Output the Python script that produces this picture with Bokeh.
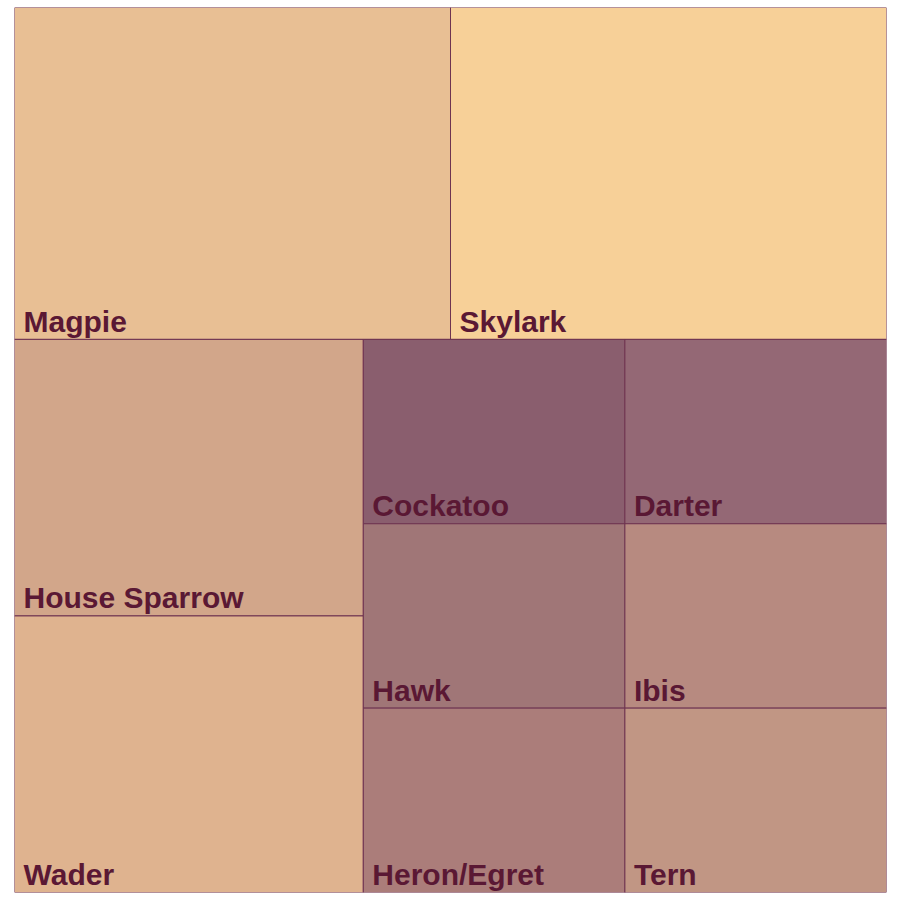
from bokeh.plotting import figure
from bokeh.models import Range1d, ColumnDataSource
from bokeh.core.properties import value
from bokeh.embed import file_html
from bokeh.resources import INLINE

# ---- data ----
birds = ["Magpie", "Skylark", "House Sparrow", "Wader", "Cockatoo",
         "Darter", "Hawk", "Heron/Egret", "Ibis", "Tern"]
counts = [3, 3, 2, 2, 1, 1, 1, 1, 1, 1]

# ---- style ----
fills = ["#E8BF94", "#F7D098", "#D2A68A", "#DFB38F", "#8A5E6E",
         "#946875", "#A07677", "#AB7D7A", "#B78A80", "#C19684"]
ink = "#5A1834"
edge = "#6E3350"

W, H = 872.0, 885.0


def worst(row, side):
    s = sum(row)
    mx, mn = max(row), min(row)
    return max(side * side * mx / (s * s), s * s / (side * side * mn))


def layout_row(row, x, y, w, h):
    """Lay row along the shorter side; y is top in 'down' coords."""
    s = sum(row)
    rects = []
    if w <= h:
        rh = s / w
        cx = x
        for a in row:
            rw = a / rh
            rects.append((cx, y, rw, rh))
            cx += rw
        return rects, (x, y + rh, w, h - rh)
    else:
        rw = s / h
        cy = y
        for a in row:
            rhh = a / rw
            rects.append((x, cy, rw, rhh))
            cy += rhh
        return rects, (x + rw, y, w - rw, h)


def squarify(areas, x, y, w, h):
    out = []
    areas = list(areas)
    while areas:
        side = min(w, h)
        row = [areas.pop(0)]
        while areas and worst(row + [areas[0]], side) <= worst(row, side):
            row.append(areas.pop(0))
        rects, (x, y, w, h) = layout_row(row, x, y, w, h)
        out.extend(rects)
    return out


total = float(sum(counts))
areas = [c / total * W * H for c in counts]
rects = squarify(areas, 0.0, 0.0, W, H)

left = [r[0] for r in rects]
right = [r[0] + r[2] for r in rects]
top = [H - r[1] for r in rects]
bottom = [H - r[1] - r[3] for r in rects]

src = ColumnDataSource(dict(left=left, right=right, top=top, bottom=bottom,
                            fill=fills, name=birds,
                            tx=[l + 9 for l in left],
                            ty=[b + 18 for b in bottom]))

p = figure(width=900, height=900, output_backend="svg", toolbar_location=None,
           x_range=Range1d(0, W), y_range=Range1d(0, H),
           min_border_left=14, min_border_right=14,
           min_border_top=7, min_border_bottom=8)
p.axis.visible = False
p.grid.visible = False
p.outline_line_color = None
p.background_fill_color = "white"
p.border_fill_color = "white"

p.quad(left="left", right="right", top="top", bottom="bottom", source=src,
       fill_color="fill", line_color=edge, line_width=1)
p.text(x="tx", y="ty", text="name", source=src,
       text_font=value("Liberation Sans"), text_font_style="bold",
       text_font_size="30px", text_color=ink,
       text_align="left", text_baseline="alphabetic")

open("out.html", "w").write(file_html(p, INLINE))
